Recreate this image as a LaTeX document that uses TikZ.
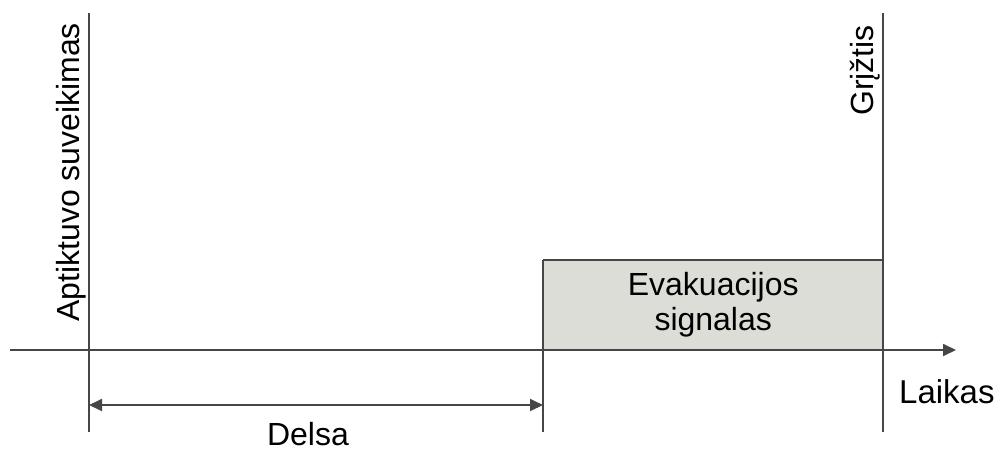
\documentclass[tikz,border=0pt]{standalone}
\usepackage{fontspec}
\setmainfont{Liberation Sans}
\usetikzlibrary{arrows.meta}
\definecolor{linegray}{RGB}{70,70,70}
\definecolor{boxgray}{RGB}{221,221,216}
\tikzset{
  timeline/.style={draw=linegray, line width=1.8pt},
  labeltext/.style={font=\fontsize{32}{35}\selectfont, inner sep=0pt},
  sidetext/.style={labeltext, rotate=90, anchor=base west},
  tiphead/.tip={Triangle[length=13pt, width=12pt]}
}
\begin{document}
\begin{tikzpicture}[x=1pt, y=-1pt]
    \useasboundingbox (0,0) rectangle (999,450);
    % Evacuation signal (Left edge at alarm, right edge at return)
    \node[fill=boxgray, minimum width=340pt, minimum height=90pt, anchor=south west,
          labeltext, align=center, inner sep=0pt] (signal) at (543,350) {Evakuacijos\\signalas};
    \draw[timeline] (signal.north west) -- (signal.north east);

    % Time axis
    \coordinate (axisstart) at (10,350);
    \coordinate (axisend) at (956,350);
    \draw[timeline, -{tiphead}] (axisstart) -- (axisend);

    % Instants
    \coordinate (detecttop) at (89,13);
    \coordinate (detectbot) at (89,432);
    \coordinate (alarmtop) at (543,260);
    \coordinate (alarmbot) at (543,432);
    \coordinate (returntop) at (883,13);
    \coordinate (returnbot) at (883,432);
    \draw[timeline] (detecttop) -- (detectbot);
    \draw[timeline] (alarmtop) -- (alarmbot);
    \draw[timeline] (returntop) -- (returnbot);

    % Delay
    \coordinate (delaystart) at (89,405);
    \coordinate (delayend) at (543,405);
    \draw[timeline, {tiphead}-{tiphead}] (delaystart) -- (delayend);
    \node[labeltext, anchor=base] (delay) at (308,445) {Delsa};

    % Labels
    \node[sidetext] (detect) at (79,322) {Aptiktuvo suveikimas};
    \node[sidetext] (return) at (873,116) {Grįžtis};
    \node[labeltext, font=\fontsize{33}{36}\selectfont, anchor=base west] (time) at (899,403) {Laikas};
\end{tikzpicture}
\end{document}
